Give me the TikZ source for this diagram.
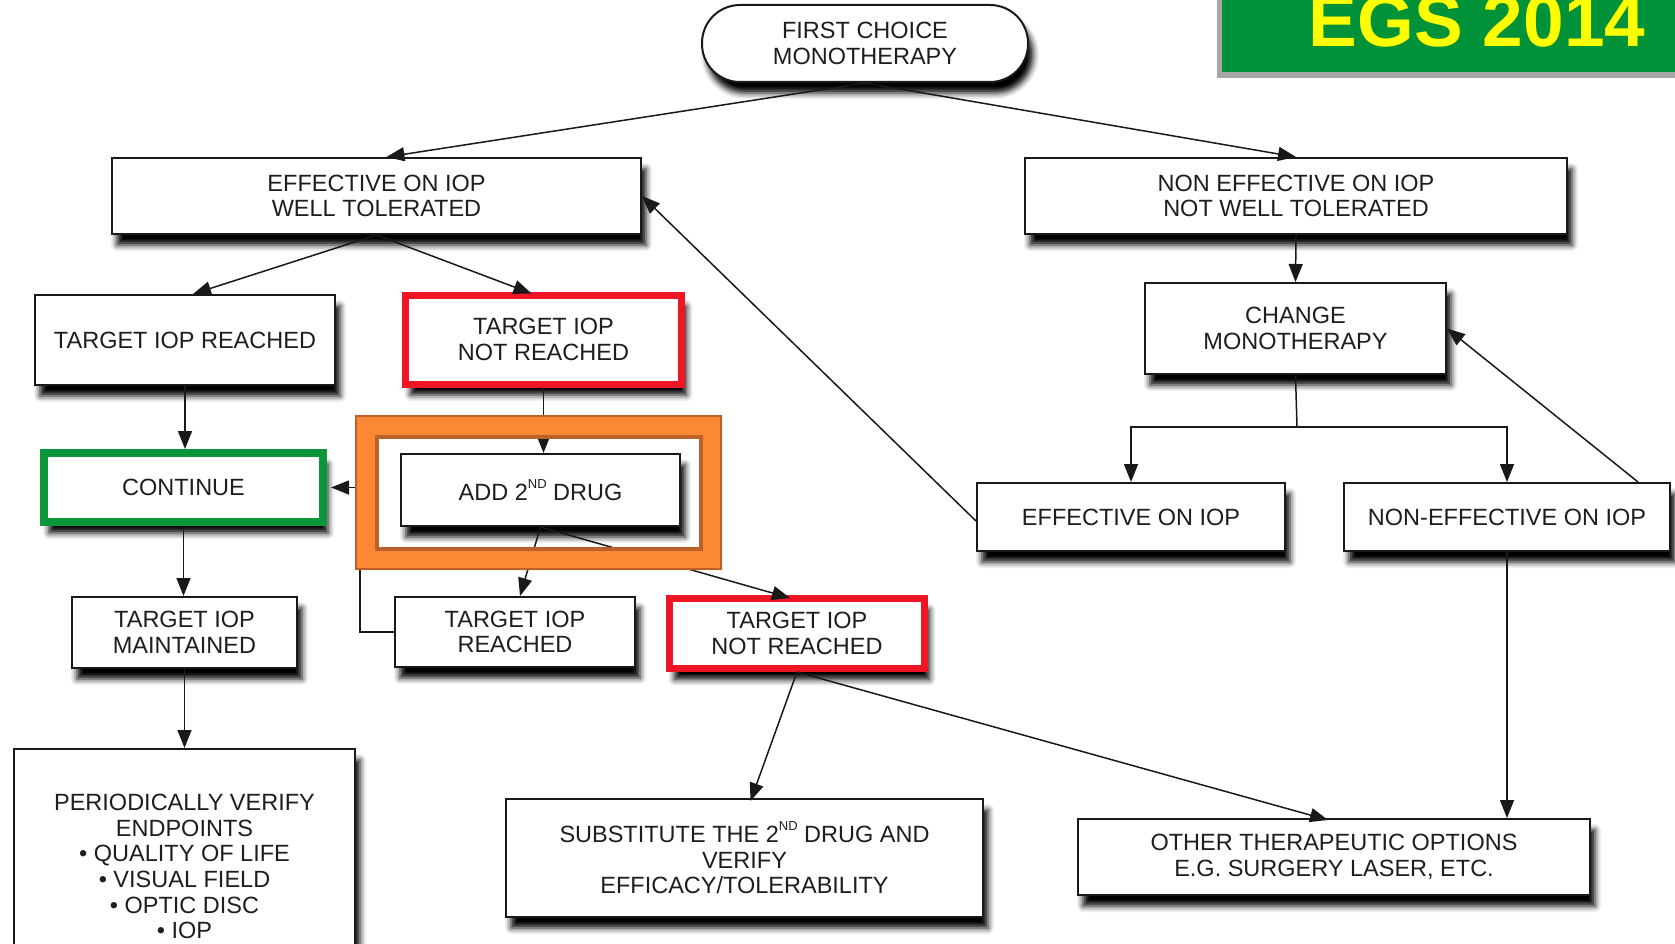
\documentclass[tikz,border=0pt]{standalone}
\usepackage{fontspec}
\setmainfont{Liberation Sans}
\usetikzlibrary{arrows.meta,shadows.blur,calc}
\definecolor{redb}{RGB}{238,22,36}
\definecolor{greenb}{RGB}{12,150,58}
\definecolor{bannergreen}{RGB}{0,146,56}
\definecolor{orangef}{RGB}{250,136,52}
\definecolor{orangee}{RGB}{188,98,40}
\definecolor{txt}{RGB}{30,30,30}
\newcommand\boxfont{\fontsize{23.5}{25.6}\selectfont}
\newcommand\sups[1]{\raisebox{0.5em}{\fontsize{13}{13}\selectfont #1}}
\tikzset{
  box/.style={draw=black!90, line width=2pt, fill=white, align=center, inner sep=0pt,
    text=txt, font=\boxfont,
    blur shadow={shadow xshift=5pt, shadow yshift=-11pt, shadow blur radius=6pt, shadow opacity=100}},
  redbox/.style={box, draw=redb, line width=7pt},
  greenbox/.style={box, draw=greenb, line width=8pt},
  wh/.style 2 args={minimum width=#1pt, minimum height=#2pt},
  arr/.style={-{Triangle[length=18pt,width=14pt]}, line width=1.5pt, draw=black!90},
  ln/.style={line width=1.5pt, draw=black!90},
}
\begin{document}
\begin{tikzpicture}[x=1pt,y=-1pt]
\useasboundingbox (0,0) rectangle (1675,944);
% banner
\fill[black!35] (1217,-5) rectangle (1680,78);
\fill[bannergreen] (1222,-5) rectangle (1680,72);
\node[anchor=base, inner sep=0pt, text={rgb,255:red,255;green,255;blue,0}, font=\fontsize{73}{73}\selectfont\bfseries] (egs) at (1477,47) {EGS 2014};
% nodes
\node[box, wh={326}{77}, rounded corners=38pt] (fc) at (865,43.5) {FIRST CHOICE\\MONOTHERAPY};
\node[box, wh={529}{76}] (eff) at (376.5,196) {EFFECTIVE ON IOP\\WELL TOLERATED};
\node[box, wh={542}{76}] (noneff) at (1296,196) {NON EFFECTIVE ON IOP\\NOT WELL TOLERATED};
\node[box, wh={300}{90}] (tr1) at (185,340) {TARGET IOP REACHED};
\node[redbox, wh={276}{89}] (tnr1) at (543.5,339.5) {TARGET IOP\\NOT REACHED};
\node[box, wh={301}{91}] (change) at (1295.5,328.5) {CHANGE\\MONOTHERAPY};
\node[greenbox, wh={279}{69}] (cont) at (183.5,487.5) {CONTINUE};
\node[box, wh={279}{72}] (add) at (540.5,490) {ADD 2\sups{ND} DRUG};
\node[box, wh={308}{68}] (effiop) at (1131,517) {EFFECTIVE ON IOP};
\node[box, wh={326}{68}] (neffiop) at (1507,517) {NON-EFFECTIVE ON IOP};
\node[box, wh={225}{71}] (maint) at (184.5,632.5) {TARGET IOP\\MAINTAINED};
\node[box, wh={240}{70}] (tr2) at (515,632) {TARGET IOP\\REACHED};
\node[redbox, wh={255}{70}] (tnr2) at (797,633.5) {TARGET IOP\\NOT REACHED};
\node[box, wh={341}{235}] (per) at (184.5,866.5) {PERIODICALLY VERIFY\\ENDPOINTS\\• QUALITY OF LIFE\\• VISUAL FIELD\\• OPTIC DISC\\• IOP};
\node[box, wh={477}{118}] (subst) at (744.5,858) {SUBSTITUTE THE 2\sups{ND} DRUG AND\\VERIFY\\EFFICACY/TOLERABILITY};
\node[box, wh={512}{76}] (other) at (1334,857) {OTHER THERAPEUTIC OPTIONS\\E.G. SURGERY LASER, ETC.};
% connectors
\draw[arr] (fc.south) -- ([xshift=10pt]eff.north);
\draw[arr] (fc.south) -- (noneff.north);
\draw[arr] (eff.south) -- ([xshift=8pt]tr1.north);
\draw[arr] (eff.south) -- ([xshift=-12pt,yshift=-2pt]tnr1.north);
\draw[arr] (tr1.south) -- (tr1.south |- cont.north);
\draw[arr] (tnr1.south) -- (tnr1.south |- add.north);
\draw[arr] (add.south) -- ([xshift=5pt]tr2.north);
\draw[arr] (add.south) -- ([xshift=-7pt,yshift=-3pt]tnr2.north);
\coordinate (bend) at (360,487.5);
\draw[arr, shorten >=4pt] (tr2.west) -| (bend) -- (cont.east);
\draw[arr] (cont.south) -- (cont.south |- maint.north);
\draw[arr] (maint.south) -- (maint.south |- per.north);
\draw[arr] (noneff.south) -- (change.north);
\coordinate (split) at (1297,427);
\draw[ln] (change.south) -- (split);
\draw[arr] (split) -| (effiop.north);
\draw[arr] (split) -| (neffiop.north);
\draw[arr] ([yshift=-4pt]effiop.west) -- (eff.east);
\draw[arr] ([xshift=-33pt]neffiop.north east) -- (change.east);
\draw[arr] (neffiop.south) -- (neffiop.south |- other.north);
\draw[arr] (tnr2.south) -- ([xshift=6pt,yshift=-3pt]subst.north);
\draw[arr] (tnr2.south) -- ([xshift=-6pt,yshift=-2pt]other.north);
% orange frame
\fill[orangef, even odd rule] (355,415) rectangle (722,570) (378,438) rectangle (700,548);
\draw[orangee, line width=2pt] (356,416) rectangle (721,569);
\draw[orangee, line width=4.5pt] (377,437) rectangle (701,549);
\end{tikzpicture}
\end{document}
